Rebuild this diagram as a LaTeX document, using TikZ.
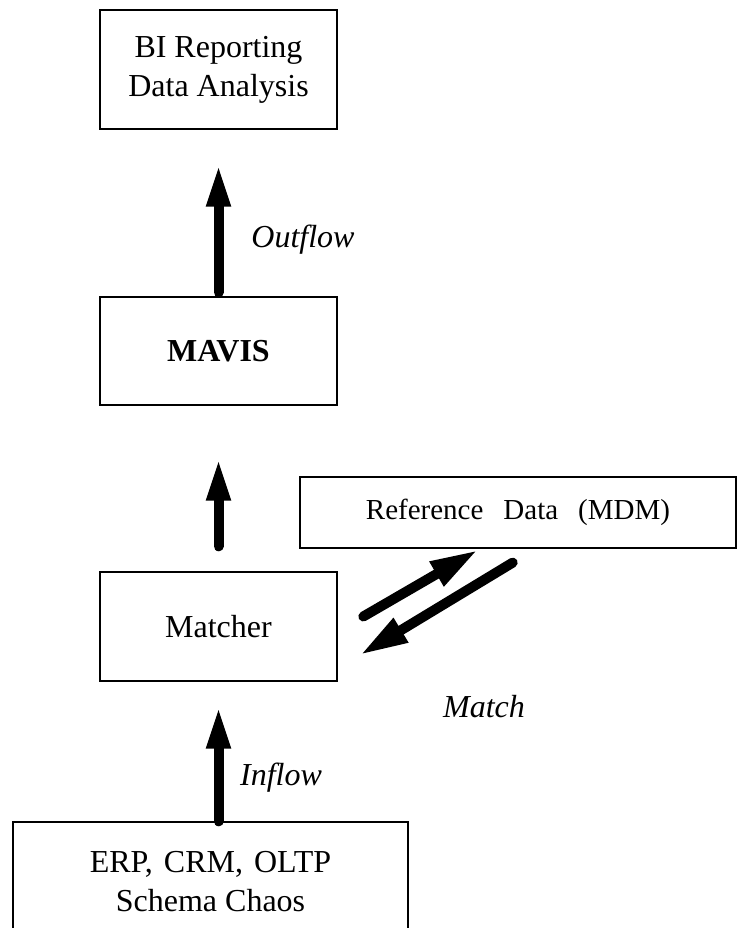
\documentclass[tikz,border=0pt]{standalone}
\usepackage{fontspec}
\setmainfont{Liberation Serif}
\usetikzlibrary{arrows.meta}

\newcommand*{\picw}{737}
\newcommand*{\pich}{928}

\begin{document}
\begin{tikzpicture}
[
	x=1pt,y=-1pt,
	box/.style={draw,line width=1.4pt,inner sep=0pt,align=center,font=\fontsize{32}{39}\selectfont},
	flow/.style={line width=10pt,line cap=round,-{Triangle[length=43pt,width=22pt]}},
	matchflow/.style={line width=10pt,line cap=round,-{Triangle[length=48pt,width=26pt]}},
	lbl/.style={font=\fontsize{32}{39}\selectfont\itshape}
]

	% page
	\useasboundingbox (0,0) rectangle (\picw,\pich);
	\clip (0,0) rectangle (\picw,\pich);

	% boxes
	\node[box,minimum width=237pt,minimum height=119pt] at (218.5,69.5) (bi) {BI Reporting\\Data Analysis};
	\node[box,minimum width=237pt,minimum height=108pt] at (218.5,351) (mavis) {\bfseries MAVIS};
	\node[box,minimum width=237pt,minimum height=109pt] at (218.5,626.5) (matcher) {Matcher};
	\node[box,minimum width=436pt,minimum height=71pt,font=\fontsize{29}{34}\selectfont] at (518,512.5) (refdata)
		{Reference\hspace{20pt}Data\hspace{20pt}(MDM)};
	\node[box,minimum width=395pt,minimum height=120pt] at (210.5,882) (sources)
		{ERP,\hspace{11pt}CRM,\hspace{11pt}OLTP\\Schema Chaos};

	% flows
	\draw[flow,shorten <=4pt,shorten >=34pt] (mavis.north) -- (bi.south);
	\draw[flow,shorten <=25pt,shorten >=52pt] (matcher.north) -- (mavis.south);
	\draw[flow,shorten >=24pt] (matcher.south |- sources.north) -- (matcher.south);

	% match arrows
	\coordinate (mup) at (363.3,616.5);
	\coordinate (mupend) at (478,550);
	\coordinate (mdown) at (512.7,562.6);
	\coordinate (mdownend) at (360,655);
	\draw[matchflow] (mup) -- (mupend);
	\draw[matchflow] (mdown) -- (mdownend);

	% labels
	\node[lbl] at (303,240) (outflow) {Outflow};
	\node[lbl] at (281,778) (inflow) {Inflow};
	\node[lbl] at (484,707) (match) {Match};

\end{tikzpicture}
\end{document}
